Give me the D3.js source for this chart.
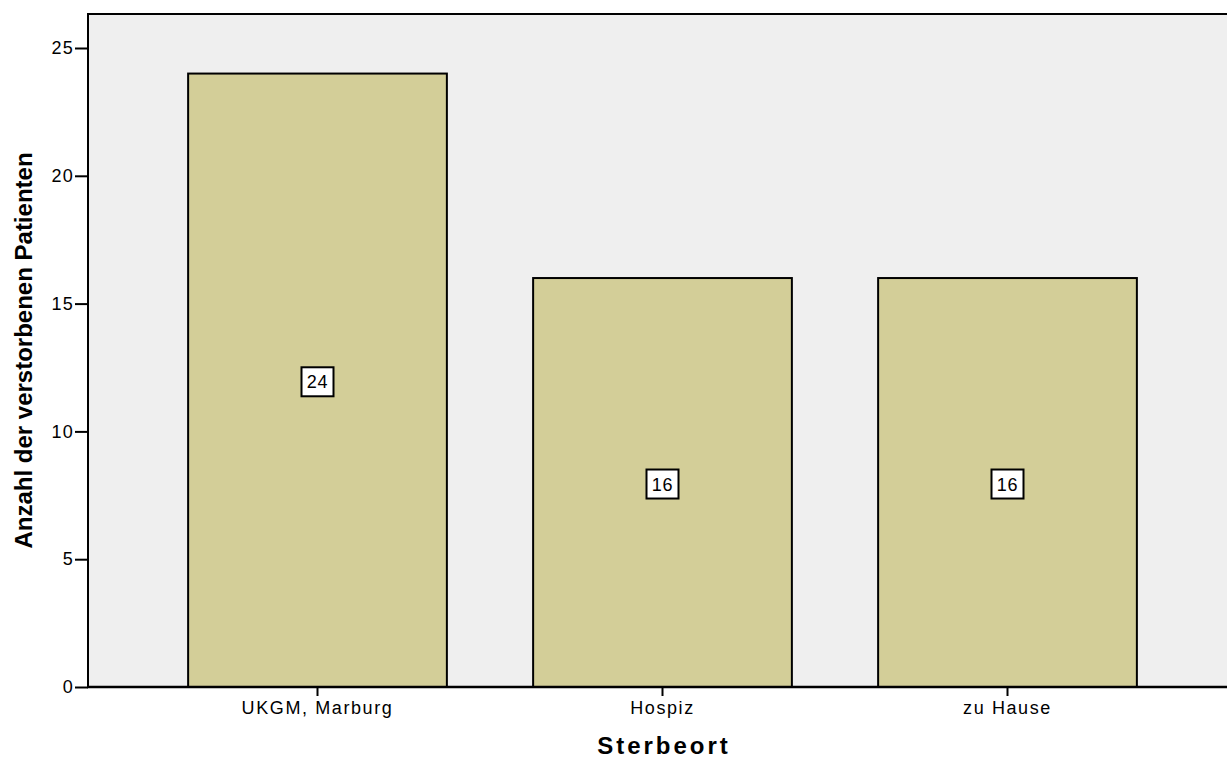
<!DOCTYPE html>
<html>
<head>
<meta charset="utf-8">
<script src="https://cdn.jsdelivr.net/npm/d3@7"></script>
<style>
  html, body { margin: 0; padding: 0; background: #ffffff; }
  svg { display: block; }
</style>
</head>
<body>
<svg id="chart" width="1227" height="758"></svg>
<script>
// Sterbeort der verstorbenen Patienten
const categories = ["UKGM, Marburg", "Hospiz", "zu Hause"];
const counts = [24, 16, 16];
const yTicks = [0, 5, 10, 15, 20, 25];

const svg = d3.select("#chart");
const plot = { left: 88, right: 1227, top: 14, bottom: 687 };
const FONT = "Liberation Sans, Arial, sans-serif";

const x = d3.scaleBand()
  .domain(categories)
  .range([145, 1180])
  .paddingInner(0.25)
  .paddingOuter(0.125);

const y = d3.scaleLinear()
  .domain([0, 25])
  .range([plot.bottom, 48]);

// plot background
svg.append("rect")
  .attr("x", plot.left).attr("y", plot.top)
  .attr("width", plot.right - plot.left)
  .attr("height", plot.bottom - plot.top)
  .attr("fill", "#efefef");

// bars
svg.selectAll("rect.bar")
  .data(categories)
  .join("rect")
  .attr("class", "bar")
  .attr("x", d => x(d))
  .attr("y", (d, i) => y(counts[i]))
  .attr("width", x.bandwidth())
  .attr("height", (d, i) => y(0) - y(counts[i]))
  .attr("fill", "#d3ce98")
  .attr("stroke", "#000")
  .attr("stroke-width", 2);

// frame: top and left
svg.append("path")
  .attr("d", `M${plot.right},${plot.top}H${plot.left}V${plot.bottom}`)
  .attr("fill", "none")
  .attr("stroke", "#000")
  .attr("stroke-width", 2);

// y axis
const yAxis = svg.append("g")
  .attr("transform", `translate(${plot.left},0)`)
  .call(d3.axisLeft(y).tickValues(yTicks).tickSize(13).tickPadding(1).tickFormat(d3.format("d")));
yAxis.select(".domain").remove();
yAxis.selectAll(".tick line").attr("stroke", "#000").attr("stroke-width", 2);
yAxis.selectAll(".tick text")
  .attr("fill", "#000")
  .attr("font-family", FONT)
  .attr("font-size", 18)
  .attr("letter-spacing", 1.2);

// x axis
const xAxis = svg.append("g")
  .attr("transform", `translate(0,${plot.bottom})`)
  .call(d3.axisBottom(x).tickSize(9).tickPadding(5));
xAxis.select(".domain").remove();
xAxis.selectAll(".tick line").attr("stroke", "#000").attr("stroke-width", 2);
xAxis.selectAll(".tick text")
  .attr("fill", "#000")
  .attr("font-family", FONT)
  .attr("font-size", 18)
  .attr("letter-spacing", 1.6);

svg.append("line")
  .attr("x1", plot.left - 1).attr("x2", plot.right)
  .attr("y1", plot.bottom).attr("y2", plot.bottom)
  .attr("stroke", "#000").attr("stroke-width", 2.5);

// value labels in boxes
const labels = svg.selectAll("g.vlabel")
  .data(categories)
  .join("g")
  .attr("class", "vlabel")
  .attr("transform", (d, i) => `translate(${x(d) + x.bandwidth() / 2},${y(counts[i] / 2) + 1.5})`);
labels.append("rect")
  .attr("x", -16).attr("y", -14.5)
  .attr("width", 32).attr("height", 29)
  .attr("fill", "#fff")
  .attr("stroke", "#000")
  .attr("stroke-width", 2);
labels.append("text")
  .attr("text-anchor", "middle")
  .attr("dy", "0.36em")
  .attr("font-family", FONT)
  .attr("font-size", 18)
  .attr("letter-spacing", 0.8)
  .attr("fill", "#000")
  .text((d, i) => counts[i]);

// axis titles
svg.append("text")
  .attr("x", 664).attr("y", 754)
  .attr("text-anchor", "middle")
  .attr("font-family", FONT)
  .attr("font-weight", "bold")
  .attr("font-size", 24)
  .attr("letter-spacing", 3)
  .attr("fill", "#000")
  .text("Sterbeort");

svg.append("text")
  .attr("transform", `translate(32,${(plot.top + plot.bottom) / 2}) rotate(-90)`)
  .attr("text-anchor", "middle")
  .attr("font-family", "Liberation Sans Narrow, Arial Narrow, sans-serif")
  .attr("font-weight", "bold")
  .attr("font-size", 24)
  .attr("fill", "#000")
  .text("Anzahl der verstorbenen Patienten");
</script>
</body>
</html>
